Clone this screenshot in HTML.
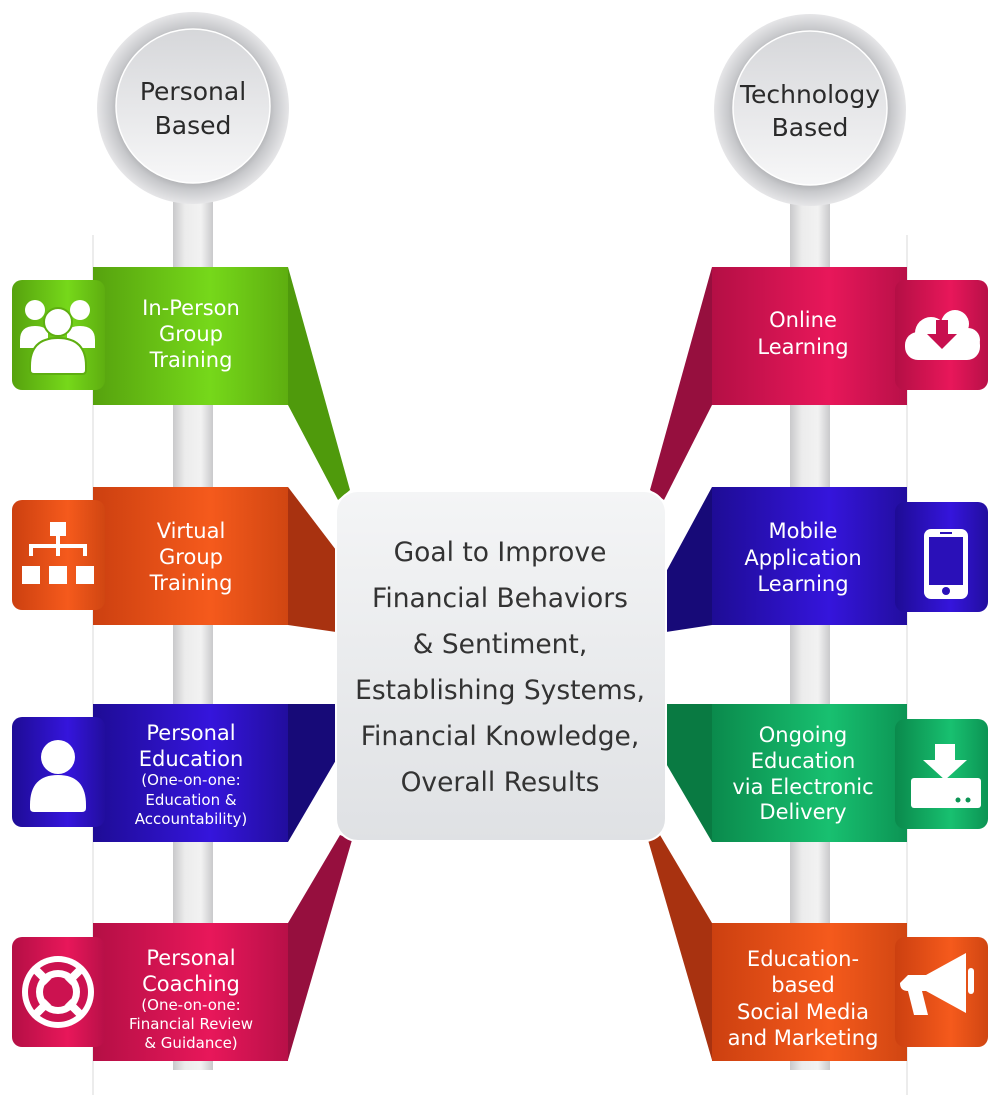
<!DOCTYPE html>
<html><head><meta charset="utf-8"><style>
html,body{margin:0;padding:0;background:#fff}
svg{display:block}
text{font-family:"DejaVu Sans","Liberation Sans",sans-serif}
</style></head><body>
<svg width="1000" height="1096" viewBox="0 0 1000 1096" xmlns="http://www.w3.org/2000/svg">
<defs>
<linearGradient id="strip" x1="0" x2="1"><stop offset="0" stop-color="#c9c9cb"/><stop offset="0.3" stop-color="#ececec"/><stop offset="0.7" stop-color="#f2f2f2"/><stop offset="1" stop-color="#c9c9cb"/></linearGradient>
<radialGradient id="outer" cx="0.5" cy="0.5" r="0.5"><stop offset="0.75" stop-color="#a9aaad"/><stop offset="0.85" stop-color="#c8c9cc"/><stop offset="1" stop-color="#e6e6e8"/></radialGradient>
<linearGradient id="inner" x1="0" y1="0" x2="0" y2="1"><stop offset="0" stop-color="#d6d7da"/><stop offset="1" stop-color="#f7f7f8"/></linearGradient>
<linearGradient id="box" x1="0" y1="0" x2="0" y2="1"><stop offset="0" stop-color="#f4f5f6"/><stop offset="1" stop-color="#dfe1e4"/></linearGradient>
<linearGradient id="gG" x1="0" x2="1"><stop offset="0" stop-color="#56a20e"/><stop offset="0.6" stop-color="#76d81a"/><stop offset="1" stop-color="#5eae10"/></linearGradient>
<linearGradient id="gO" x1="0" x2="1"><stop offset="0" stop-color="#cc4010"/><stop offset="0.6" stop-color="#f55a1c"/><stop offset="1" stop-color="#d04612"/></linearGradient>
<linearGradient id="gB" x1="0" x2="1"><stop offset="0" stop-color="#1e0c95"/><stop offset="0.6" stop-color="#3515dc"/><stop offset="1" stop-color="#220e9e"/></linearGradient>
<linearGradient id="gP" x1="0" x2="1"><stop offset="0" stop-color="#b40f45"/><stop offset="0.6" stop-color="#e8175a"/><stop offset="1" stop-color="#b81048"/></linearGradient>
<linearGradient id="gT" x1="0" x2="1"><stop offset="0" stop-color="#0a8a4c"/><stop offset="0.6" stop-color="#18c070"/><stop offset="1" stop-color="#0c9454"/></linearGradient>
</defs>

<rect x="92" y="235" width="2" height="860" fill="#ececec"/>
<rect x="906" y="235" width="2" height="860" fill="#ececec"/>

<rect x="173" y="180" width="40" height="890" fill="url(#strip)"/>
<rect x="790" y="180" width="40" height="890" fill="url(#strip)"/>

<circle cx="193" cy="108" r="96" fill="url(#outer)"/>
<circle cx="193" cy="106" r="77" fill="url(#inner)" stroke="#fff" stroke-width="1.5"/>
<text x="193" y="100" font-size="25" fill="#2a2a2a" text-anchor="middle">Personal</text>
<text x="193" y="134" font-size="25" fill="#2a2a2a" text-anchor="middle">Based</text>
<circle cx="810" cy="110" r="96" fill="url(#outer)"/>
<circle cx="810" cy="108" r="77" fill="url(#inner)" stroke="#fff" stroke-width="1.5"/>
<text x="810" y="103" font-size="25" fill="#2a2a2a" text-anchor="middle">Technology</text>
<text x="810" y="136" font-size="25" fill="#2a2a2a" text-anchor="middle">Based</text>

<polygon points="288,267 350,490 338,500 288,405" fill="#4f9a0c"/>
<polygon points="288,487 336,550 336,632 288,625" fill="#a83210"/>
<polygon points="288,704 336,704 336,760 288,842" fill="#170a78"/>
<polygon points="288,923 340,835 352,840 288,1060" fill="#960f3e"/>
<polygon points="712,267 650,490 664,500 712,405" fill="#960f3e"/>
<polygon points="712,487 666,572 666,632 712,625" fill="#170a78"/>
<polygon points="712,704 664,704 664,760 712,842" fill="#097a42"/>
<polygon points="712,923 660,835 648,840 712,1060" fill="#a83210"/>

<rect x="93" y="267" width="195" height="138" fill="url(#gG)"/>
<rect x="12" y="280" width="93" height="110" rx="10" fill="url(#gG)"/>
<rect x="93" y="487" width="195" height="138" fill="url(#gO)"/>
<rect x="12" y="500" width="93" height="110" rx="10" fill="url(#gO)"/>
<rect x="93" y="704" width="195" height="138" fill="url(#gB)"/>
<rect x="12" y="717" width="93" height="110" rx="10" fill="url(#gB)"/>
<rect x="93" y="923" width="195" height="138" fill="url(#gP)"/>
<rect x="12" y="937" width="93" height="110" rx="10" fill="url(#gP)"/>

<rect x="712" y="267" width="195" height="138" fill="url(#gP)"/>
<rect x="895" y="280" width="93" height="110" rx="10" fill="url(#gP)"/>
<rect x="712" y="487" width="195" height="138" fill="url(#gB)"/>
<rect x="895" y="502" width="93" height="110" rx="10" fill="url(#gB)"/>
<rect x="712" y="704" width="195" height="138" fill="url(#gT)"/>
<rect x="895" y="719" width="93" height="110" rx="10" fill="url(#gT)"/>
<rect x="712" y="923" width="195" height="138" fill="url(#gO)"/>
<rect x="895" y="937" width="93" height="110" rx="10" fill="url(#gO)"/>

<!-- icons left -->
<g fill="#fff">
<circle cx="35" cy="310" r="10"/><circle cx="80" cy="310" r="10"/>
<path d="M20 340 q0-14 15-14 q10 0 13 6 v16 h-28z"/><path d="M95 340 q0-14 -15-14 q-10 0 -13 6 v16 h28z"/>
<circle cx="58" cy="322" r="14" stroke="#5eae10" stroke-width="2"/>
<path d="M30 366 q0-28 28-28 q28 0 28 28 v4 q0 4 -4 4 h-48 q-4 0 -4-4z" stroke="#5eae10" stroke-width="2"/>
<rect x="50" y="522" width="16" height="14"/>
<rect x="56" y="536" width="4" height="10"/><rect x="29" y="544" width="58" height="4"/>
<rect x="29" y="546" width="4" height="10"/><rect x="56" y="546" width="4" height="10"/><rect x="83" y="546" width="4" height="10"/>
<rect x="22" y="566" width="18" height="18"/><rect x="49" y="566" width="18" height="18"/><rect x="76" y="566" width="18" height="18"/>
<circle cx="58" cy="757" r="17"/>
<path d="M30 805 q0-30 28-30 q28 0 28 30 v3 q0 4 -4 4 h-48 q-4 0 -4-4z"/>
</g>
<!-- lifebuoy -->
<circle cx="58" cy="992" r="36" fill="#fff"/>
<circle cx="58" cy="992" r="30" fill="#cc1250"/>
<circle cx="58" cy="992" r="22" fill="#fff"/>
<circle cx="58" cy="992" r="15" fill="#cc1250"/>
<g fill="#fff" transform="rotate(45 58 992)">
<rect x="54" y="960" width="8" height="18"/><rect x="54" y="1006" width="8" height="18"/>
<rect x="26" y="988" width="18" height="8"/><rect x="72" y="988" width="18" height="8"/>
</g>

<!-- icons right -->
<g fill="#fff">
<circle cx="931" cy="333" r="16"/><circle cx="955" cy="324" r="14"/><circle cx="968" cy="340" r="12"/>
<rect x="905" y="332" width="75" height="28" rx="13"/>
<rect x="924" y="529" width="44" height="70" rx="7"/>
<rect x="911" y="778" width="70" height="30" rx="3"/>
<path d="M935 744 h20 v16 h12 l-22 20 l-22-20 h12z"/>
<path d="M908 975 h18 l40-22 v60 l-40-22 h-4 l6 24 h-14 l-6-24 h0 q-8 0 -8-8z"/>
<rect x="968" y="968" width="6" height="26" rx="3"/>
</g>
<path d="M936 320 h12 v14 h9 l-15 15 l-15-15 h9z" fill="#c8104f"/>
<rect x="929" y="537" width="34" height="48" fill="#2a10b8"/>
<circle cx="946" cy="591" r="4" fill="#2a10b8"/>
<rect x="940" y="532" width="12" height="2" fill="#2a10b8"/>
<circle cx="958" cy="800" r="2.5" fill="#0c9454"/><circle cx="968" cy="800" r="2.5" fill="#0c9454"/>

<g fill="#fff" text-anchor="middle" font-size="21">
<text x="191" y="315">In-Person</text><text x="191" y="341">Group</text><text x="191" y="367">Training</text>
<text x="191" y="538">Virtual</text><text x="191" y="564">Group</text><text x="191" y="590">Training</text>
<text x="191" y="740">Personal</text><text x="191" y="766">Education</text>
<text x="191" y="965">Personal</text><text x="191" y="991">Coaching</text>
</g>
<g fill="#fff" text-anchor="middle" font-size="15">
<text x="191" y="785">(One-on-one:</text><text x="191" y="805">Education &amp;</text><text x="191" y="824">Accountability)</text>
<text x="191" y="1010">(One-on-one:</text><text x="191" y="1029">Financial Review</text><text x="191" y="1048">&amp; Guidance)</text>
</g>
<g fill="#fff" text-anchor="middle" font-size="21">
<text x="803" y="327">Online</text><text x="803" y="354">Learning</text>
<text x="803" y="538">Mobile</text><text x="803" y="565">Application</text><text x="803" y="591">Learning</text>
<text x="803" y="742">Ongoing</text><text x="803" y="768">Education</text><text x="803" y="794">via Electronic</text><text x="803" y="819">Delivery</text>
<text x="803" y="966">Education-</text><text x="803" y="992">based</text><text x="803" y="1019">Social Media</text><text x="803" y="1045">and Marketing</text>
</g>

<rect x="336" y="491" width="330" height="350" rx="22" fill="url(#box)" stroke="#fff" stroke-width="2"/>
<g fill="#333" text-anchor="middle" font-size="26.5">
<text x="500" y="561">Goal to Improve</text>
<text x="500" y="607">Financial Behaviors</text>
<text x="500" y="653">&amp; Sentiment,</text>
<text x="500" y="699">Establishing Systems,</text>
<text x="500" y="745">Financial Knowledge,</text>
<text x="500" y="791">Overall Results</text>
</g>
</svg>
</body></html>
